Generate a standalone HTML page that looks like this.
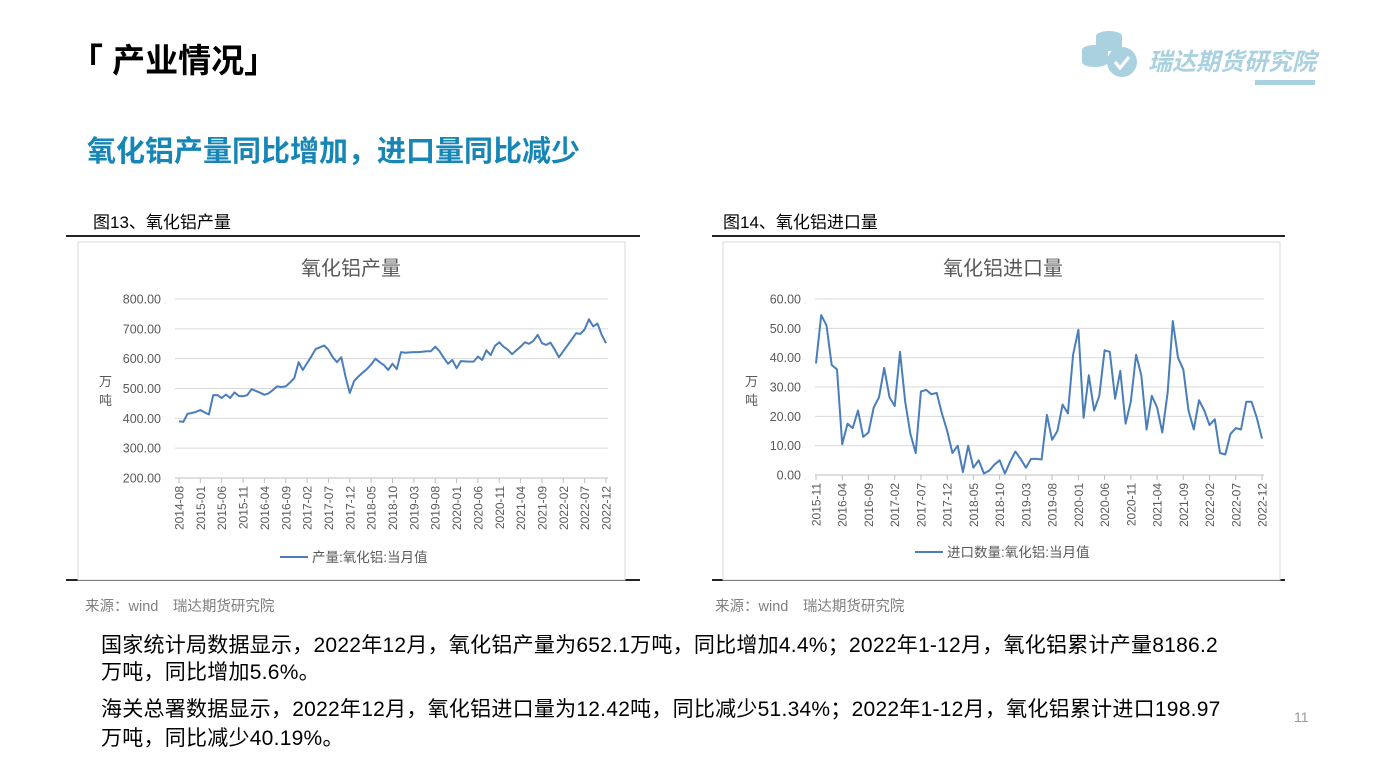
<!DOCTYPE html>
<html><head><meta charset="utf-8">
<style>
html,body{margin:0;padding:0;background:#fff;}
body{width:1387px;height:780px;position:relative;overflow:hidden;font-family:"Liberation Sans","Noto Sans CJK SC",sans-serif;}
.a{position:absolute;white-space:nowrap;}
.t1{left:70px;top:34px;font-size:33px;font-weight:bold;color:#000;}
.t2{left:87px;top:128px;font-size:29px;font-weight:bold;color:#1586b6;}
.cap{font-size:17px;color:#000;}
.src{font-size:14.5px;color:#7f7f7f;}
.p{font-size:21px;color:#000;letter-spacing:0.25px;}
</style></head><body>
<div class="a t1">「 产业情况」</div>
<div class="a t2">氧化铝产量同比增加，进口量同比减少</div>

<svg class="a" style="left:1075px;top:28px" width="245" height="60">
<ellipse cx="34" cy="8" rx="13" ry="5" fill="#a9d1e0"/>
<rect x="21" y="8" width="26" height="10" fill="#a9d1e0"/>
<ellipse cx="34" cy="18" rx="13" ry="5" fill="#a9d1e0"/>
<ellipse cx="20" cy="22" rx="13" ry="5" fill="#a9d1e0"/>
<rect x="7" y="22" width="26" height="12" fill="#a9d1e0"/>
<ellipse cx="20" cy="34" rx="13" ry="5" fill="#a9d1e0"/>
<circle cx="47" cy="34" r="15" fill="#a9d1e0"/>
<path d="M40 34 L45 40 L54 29" stroke="#fff" stroke-width="3" fill="none"/>
<text x="73" y="42" font-size="24" font-weight="bold" font-style="italic" fill="#a9d1e0" font-family="Liberation Sans, Noto Sans CJK SC, sans-serif">瑞达期货研究院</text>
<rect x="180" y="52" width="60" height="5" fill="#a9d1e0"/>
</svg>

<div class="a cap" style="left:93px;top:208px">图13、氧化铝产量</div>
<div class="a cap" style="left:723px;top:208px">图14、氧化铝进口量</div>
<div style="position:absolute;left:66px;top:235px;width:574px;height:2px;background:#222"></div>
<div style="position:absolute;left:66px;top:579px;width:574px;height:2px;background:#222"></div>
<div style="position:absolute;left:712px;top:235px;width:573px;height:2px;background:#222"></div>
<div style="position:absolute;left:712px;top:579px;width:573px;height:2px;background:#222"></div>

<svg id="c1" class="a" style="left:0;top:0" width="1387" height="780"></svg>

<div class="a src" style="left:85px;top:595px">来源：wind　瑞达期货研究院</div>
<div class="a src" style="left:715px;top:595px">来源：wind　瑞达期货研究院</div>

<div class="a p" style="left:101px;top:629px">国家统计局数据显示，2022年12月，氧化铝产量为652.1万吨，同比增加4.4%；2022年1-12月，氧化铝累计产量8186.2</div>
<div class="a p" style="left:101px;top:656px">万吨，同比增加5.6%。</div>
<div class="a p" style="left:101px;top:693px">海关总署数据显示，2022年12月，氧化铝进口量为12.42吨，同比减少51.34%；2022年1-12月，氧化铝累计进口198.97</div>
<div class="a p" style="left:101px;top:722px">万吨，同比减少40.19%。</div>
<div class="a" style="left:1294px;top:709px;font-size:14px;color:#999">11</div>

<script>
var d1=[390,388,415,418,422,428,420,413,478,478,468,480,468,487,475,474,478,498,492,486,479,484,495,507,505,507,520,535,588,562,585,608,632,638,644,630,605,588,605,540,485,525,540,553,565,580,600,588,578,562,583,565,622,620,621,622,622,623,625,625,640,625,603,583,596,568,592,591,590,590,607,596,628,612,643,655,640,630,615,628,640,655,650,660,680,652,646,654,630,605,625,645,665,685,683,698,732,708,718,705,712,680,652];
d1=d1.slice(0,101);d1[100]=652;d1[99]=680;
var d2=[38,54.5,51,37.5,36,10.5,17.5,16,22,13,14.5,23,26.5,36.5,26.5,23.5,42,25,14,7.5,28.5,29,27.5,28,21,15,7.5,10,1,10,2.5,5,0.5,1.5,3.5,5,0.5,4.5,8,5.5,2.5,5.5,5.5,5.3,20.5,12,15,24,21,41,49.5,19.5,34,22,27,42.5,42,26,35.5,17.5,25,41,34,15.5,27,23,14.5,28,52.5,40,36,22,15.5,25.5,22,17,19,7.5,7,14,16,15.5,25,25,19.5,12.4];
var s='';
function chart(o){
 var f='font-family="Liberation Sans, Noto Sans CJK SC, sans-serif"';
 s+='<rect x="'+o.bx+'" y="242" width="'+o.bw+'" height="338" fill="#fff" stroke="#d9d9d9"/>';
 s+='<text x="'+o.tx+'" y="275" font-size="20" fill="#595959" text-anchor="middle" '+f+'>'+o.title+'</text>';
 for(var i=0;i<o.yt.length;i++){var y=o.y0+(o.y1-o.y0)*i/(o.yt.length-1);
  s+='<line x1="'+o.x0+'" x2="'+o.xe+'" y1="'+y+'" y2="'+y+'" stroke="#d9d9d9"/>';
  s+='<text x="'+o.lx+'" y="'+(y+4.5)+'" font-size="12.5" fill="#595959" text-anchor="end" '+f+'>'+o.yt[i]+'</text>';}
 s+='<line x1="'+o.x0+'" x2="'+o.xe+'" y1="'+o.y0+'" y2="'+o.y0+'" stroke="#bfbfbf"/>';
 for(var j=0;j<o.xl.length;j++){var x=o.xa+(o.xb-o.xa)*o.xi[j]/(o.n-1);
  s+='<line x1="'+x+'" x2="'+x+'" y1="'+o.y0+'" y2="'+(o.y0+5)+'" stroke="#bfbfbf"/>';
  s+='<text transform="translate('+(x+4.5)+','+(o.y0+8)+') rotate(-90)" font-size="12" fill="#595959" text-anchor="end" '+f+'>'+o.xl[j]+'</text>';}
 var p=[];for(var k=0;k<o.d.length;k++){p.push((o.xa+(o.xb-o.xa)*k/(o.n-1)).toFixed(1)+','+(o.y0-(o.d[k]-o.vmin)/(o.vmax-o.vmin)*(o.y0-o.y1)).toFixed(1));}
 s+='<polyline points="'+p.join(' ')+'" fill="none" stroke="#4a7ebb" stroke-width="2" stroke-linejoin="round"/>';
 s+='<text x="'+o.ux+'" y="386" font-size="13" fill="#595959" '+f+'>万</text><text x="'+o.ux+'" y="405" font-size="13" fill="#595959" '+f+'>吨</text>';
 s+='<line x1="'+o.gx+'" x2="'+(o.gx+28)+'" y1="'+o.gy+'" y2="'+o.gy+'" stroke="#4a7ebb" stroke-width="2"/>';
 s+='<text x="'+(o.gx+32)+'" y="'+(o.gy+5)+'" font-size="13.5" fill="#595959" '+f+'>'+o.leg+'</text>';
}
chart({bx:78,bw:547,tx:351,title:'氧化铝产量',y0:478,y1:299,x0:175,xe:608,lx:161,yt:['200.00','300.00','400.00','500.00','600.00','700.00','800.00'],
 xa:179,xb:606,n:101,xi:[0,5,10,15,20,25,30,35,40,45,50,55,60,65,70,75,80,85,90,95,100],
 xl:['2014-08','2015-01','2015-06','2015-11','2016-04','2016-09','2017-02','2017-07','2017-12','2018-05','2018-10','2019-03','2019-08','2020-01','2020-06','2020-11','2021-04','2021-09','2022-02','2022-07','2022-12'],
 d:d1,vmin:200,vmax:800,ux:99,gx:280,gy:557,leg:'产量:氧化铝:当月值'});
chart({bx:723,bw:557,tx:1003,title:'氧化铝进口量',y0:475,y1:299,x0:815,xe:1264,lx:801,yt:['0.00','10.00','20.00','30.00','40.00','50.00','60.00'],
 xa:816,xb:1262,n:86,xi:[0,5,10,15,20,25,30,35,40,45,50,55,60,65,70,75,80,85],
 xl:['2015-11','2016-04','2016-09','2017-02','2017-07','2017-12','2018-05','2018-10','2019-03','2019-08','2020-01','2020-06','2020-11','2021-04','2021-09','2022-02','2022-07','2022-12'],
 d:d2,vmin:0,vmax:60,ux:745,gx:915,gy:552,leg:'进口数量:氧化铝:当月值'});
document.getElementById('c1').innerHTML=s;
</script>
</body></html>
